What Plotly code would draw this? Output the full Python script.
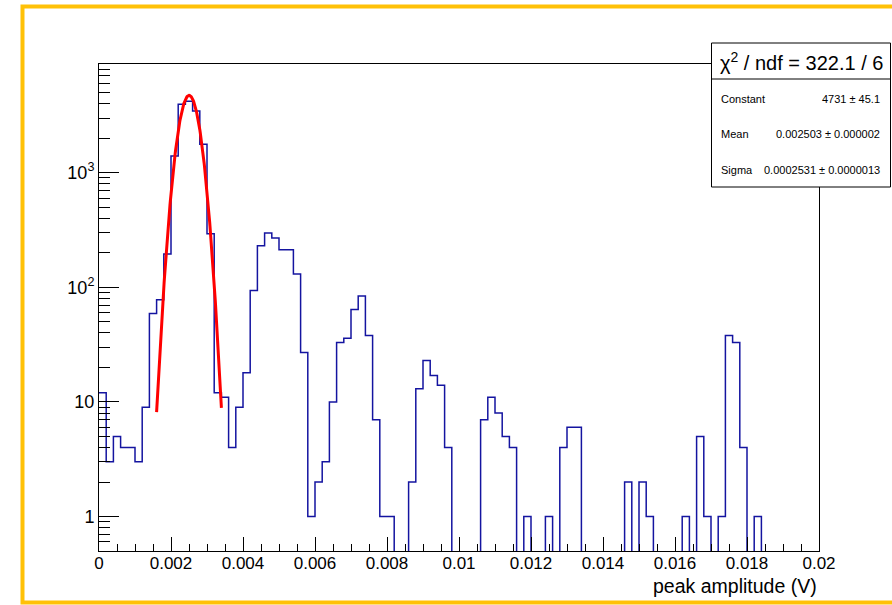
import numpy as np
import plotly.graph_objects as go

# Histogram of peak amplitudes: 100 bins over [0, 0.02] V
n_bins = 100
x_lo, x_hi = 0.0, 0.02
counts = [
    12, 3, 5, 4, 4, 3, 9, 59, 78, 195,
    1400, 3960, 4200, 3460, 1775, 294, 12, 11, 4, 9,
    18, 94, 231, 298, 269, 213, 213, 131, 27, 1,
    2, 3, 10, 33, 36, 64, 84, 38, 7, 1,
    1, 0, 0, 2, 13, 23, 17, 14, 4, 0,
    0, 0, 0, 7, 11, 8, 5, 4, 0, 1,
    0, 0, 1, 0, 4, 6, 6, 0, 0, 0,
    0, 0, 0, 2, 0, 2, 1, 0, 0, 0,
    0, 1, 0, 5, 1, 0, 1, 38, 33, 4,
    0, 1, 0, 0, 0, 0, 0, 0, 0, 0,
]

# Gaussian fit results
fit_constant, fit_constant_err = 4731, 45.1
fit_mean, fit_mean_err = 0.002503, 0.000002
fit_sigma, fit_sigma_err = 0.0002531, 0.0000013
fit_range = (0.0016, 0.0034)
chi2, ndf = 322.1, 6

x_tick_vals = [0, 0.002, 0.004, 0.006, 0.008, 0.01, 0.012, 0.014, 0.016, 0.018, 0.02]
x_tick_text = ["0", "0.002", "0.004", "0.006", "0.008", "0.01", "0.012", "0.014", "0.016", "0.018", "0.02"]
y_tick_vals = [1, 10, 100, 1000]
y_tick_text = ["1", "10", "10<sup>2</sup>", "10<sup>3</sup>"]
x_title = "peak amplitude (V)"

# ---- derived geometry (plot area in pixels) ----
W, H = 892, 605
L, R, T, B = 99, 819, 64, 551
y_lo, y_hi = 0.5, 8890

def px(xp):
    return (xp - L) / (R - L)

def py(yp):
    return (B - yp) / (B - T)

edges = np.linspace(x_lo, x_hi, n_bins + 1)
cnt = np.array(counts, dtype=float)
# empty bins fall below the log range so the outline drops out of the frame
cnt_draw = np.where(cnt > 0, cnt, 1e-3)
hx = np.append(edges[:-1], edges[-1])
hy = np.append(cnt_draw, cnt_draw[-1])

fx = np.linspace(fit_range[0], fit_range[1], 200)
fy = fit_constant * np.exp(-0.5 * ((fx - fit_mean) / fit_sigma) ** 2)

fig = go.Figure()
fig.add_trace(go.Scatter(x=hx, y=hy, mode="lines", line=dict(shape="hv", color="#1414a0", width=1.5),
                         showlegend=False, hoverinfo="skip"))
fig.add_trace(go.Scatter(x=fx, y=fy, mode="lines", line=dict(color="#ff0000", width=3),
                         showlegend=False, hoverinfo="skip"))

font_family = "Liberation Sans, Arial, Helvetica, sans-serif"

minor_y = []
for dec in [0.1, 1, 10, 100, 1000]:
    for k in range(2, 10):
        v = k * dec
        if y_lo < v < y_hi:
            minor_y.append(v)

fig.update_layout(
    width=W, height=H,
    margin=dict(l=L, r=W - R, t=T, b=H - B, pad=0),
    paper_bgcolor="white", plot_bgcolor="white",
    font=dict(family=font_family, size=18, color="black"),
    xaxis=dict(
        range=[x_lo, x_hi], tickmode="array", tickvals=x_tick_vals, ticktext=x_tick_text,
        ticks="inside", ticklen=14, tickwidth=1, tickcolor="black",
        minor=dict(dtick=0.0005, ticks="inside", ticklen=7, tickwidth=1, tickcolor="black", showgrid=False),
        showgrid=False, zeroline=False, showline=True, linecolor="black", linewidth=1, mirror=True,
        tickfont=dict(size=17), ticklabelstandoff=-3,
    ),
    yaxis=dict(
        type="log", range=[np.log10(y_lo), np.log10(y_hi)], tickmode="array",
        tickvals=y_tick_vals, ticktext=y_tick_text,
        ticks="inside", ticklen=20, tickwidth=1, tickcolor="black",
        minor=dict(tickmode="array", tickvals=minor_y, ticks="inside", ticklen=11, tickwidth=1,
                   tickcolor="black", showgrid=False),
        showgrid=False, zeroline=False, showline=True, linecolor="black", linewidth=1, mirror=True,
        tickfont=dict(size=18),
    ),
)

# axis title, right aligned under the x axis
fig.add_annotation(text=x_title, xref="paper", yref="paper", x=1.0, y=py(586),
                   xanchor="right", yanchor="middle", showarrow=False, font=dict(size=19.5))

# fit statistics box
bx0, bx1, by0, by1, bsep = 711.5, 890.5, 43, 187, 79
shapes = [
    dict(type="rect", xref="paper", yref="paper", x0=px(bx0), x1=px(bx1), y0=py(by1), y1=py(by0),
         fillcolor="white", line=dict(color="black", width=1), layer="above"),
    dict(type="line", xref="paper", yref="paper", x0=px(bx0), x1=px(bx1), y0=py(bsep), y1=py(bsep),
         line=dict(color="black", width=1), layer="above"),
    # outer highlight border
    dict(type="rect", xref="paper", yref="paper", x0=px(22.5), x1=px(905), y0=py(602.5), y1=py(6.5),
         line=dict(color="#ffc107", width=4), fillcolor="rgba(0,0,0,0)", layer="above"),
]
fig.update_layout(shapes=shapes)

fig.add_annotation(text=f"χ<sup>2</sup> / ndf = {chi2} / {ndf}", xref="paper", yref="paper",
                   x=px((bx0 + bx1) / 2), y=py(61), xanchor="center", yanchor="middle",
                   showarrow=False, font=dict(size=20))
rows = [
    ("Constant", f"{fit_constant} ± {fit_constant_err}", 99),
    ("Mean", f"{fit_mean:.6f} ± {fit_mean_err:.6f}", 134),
    ("Sigma", f"{fit_sigma:.7f} ± {fit_sigma_err:.7f}", 170),
]
for name, val, yy in rows:
    fig.add_annotation(text=name, xref="paper", yref="paper", x=px(719), y=py(yy),
                       xanchor="left", yanchor="middle", showarrow=False, font=dict(size=11))
    fig.add_annotation(text=val, xref="paper", yref="paper", x=px(882), y=py(yy),
                       xanchor="right", yanchor="middle", showarrow=False, font=dict(size=11))

fig.write_html("out.html")
